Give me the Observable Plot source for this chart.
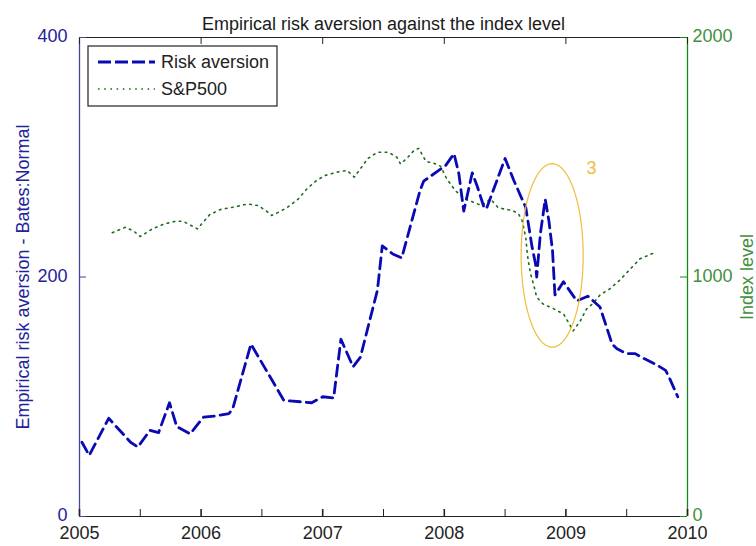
<!DOCTYPE html>
<html>
<head>
<meta charset="utf-8">
<script src="https://cdn.jsdelivr.net/npm/d3@7"></script>
<script src="https://cdn.jsdelivr.net/npm/@observablehq/plot@0.6"></script>
<style>
  html, body { margin: 0; padding: 0; background: #fff; }
  #chart { width: 756px; height: 546px; }
</style>
</head>
<body>
<div id="chart"></div>
<script>
// Empirical risk aversion (Bates:Normal), decimal year and level
const raYear = [2005.02, 2005.08, 2005.24, 2005.42, 2005.48, 2005.58, 2005.65, 2005.74, 2005.80, 2005.91,
  2006.02, 2006.12, 2006.23, 2006.26, 2006.41, 2006.68, 2006.91, 2007.00, 2007.09, 2007.15,
  2007.25, 2007.31, 2007.45, 2007.49, 2007.58, 2007.65, 2007.80, 2007.83, 2007.94, 2008.01,
  2008.08, 2008.12, 2008.16, 2008.23, 2008.27, 2008.33, 2008.35, 2008.50, 2008.57, 2008.67,
  2008.70, 2008.72, 2008.75, 2008.76, 2008.79, 2008.83, 2008.86, 2008.89, 2008.91, 2008.98,
  2009.09, 2009.18, 2009.28, 2009.38, 2009.42, 2009.50, 2009.57, 2009.64, 2009.74, 2009.82,
  2009.85, 2009.92];
const raValue = [62, 51, 82, 62, 58, 72, 70, 95, 75, 69,
  83, 84, 86, 90, 144, 97, 95, 100, 99, 148,
  125, 133, 189, 226, 219, 216, 272, 280, 288, 293,
  303, 286, 255, 287, 276, 257, 258, 299, 281, 258,
  239, 226, 211, 200, 236, 265, 247, 222, 185, 196,
  180, 184, 175, 144, 140, 136, 136, 132, 127, 122,
  116, 100];

// S&P500 index level, decimal year and index points
const spYear = [2005.27, 2005.38, 2005.45, 2005.50, 2005.60, 2005.70, 2005.79, 2005.85, 2005.91, 2005.97,
  2006.07, 2006.16, 2006.28, 2006.38, 2006.47, 2006.53, 2006.58, 2006.64, 2006.71, 2006.80,
  2006.87, 2006.95, 2007.02, 2007.12, 2007.20, 2007.26, 2007.31, 2007.37, 2007.45, 2007.54,
  2007.61, 2007.64, 2007.69, 2007.75, 2007.79, 2007.85, 2007.91, 2007.97, 2008.02, 2008.09,
  2008.17, 2008.24, 2008.31, 2008.38, 2008.44, 2008.49, 2008.56, 2008.61, 2008.64, 2008.67,
  2008.68, 2008.69, 2008.71, 2008.74, 2008.76, 2008.81, 2008.90, 2008.98, 2009.02, 2009.06,
  2009.12, 2009.17, 2009.22, 2009.28, 2009.36, 2009.45, 2009.53, 2009.61, 2009.74];
const spIndex = [1185, 1208, 1190, 1169, 1201, 1222, 1233, 1233, 1217, 1201,
  1260, 1282, 1293, 1305, 1298, 1278, 1257, 1271, 1291, 1326,
  1368, 1403, 1424, 1438, 1445, 1417, 1452, 1494, 1521, 1521,
  1500, 1472, 1494, 1528, 1537, 1482, 1476, 1462, 1410, 1361,
  1326, 1312, 1298, 1326, 1291, 1284, 1278, 1264, 1236, 1166,
  1110, 1069, 1013, 957, 916, 888, 867, 846, 811, 775,
  818, 867, 888, 925, 950, 990, 1034, 1076, 1104];

// Axis ticks
const yearTicks = [2005, 2006, 2007, 2008, 2009, 2010];
const halfYearTicks = [2005.5, 2006.5, 2007.5, 2008.5, 2009.5];
const leftTicks = [0, 200, 400];
const indexPerUnit = 5; // right axis 0–2000 shares the left axis 0–400 range

// Highlighted episode (ellipse centre, radii) and its tag
const episodeX = [2008.887];
const episodeY = [218];
const episodeRx = [0.255];
const episodeRy = [76.6];
const episodeTag = ["3"];
const episodeTagX = [2009.17];
const episodeTagY = [291];

const title = "Empirical risk aversion against the index level";
const leftLabel = "Empirical risk aversion - Bates:Normal";
const rightLabel = "Index level";
const seriesNames = ["Risk aversion", "S&P500"];

const ra = raYear.map((x, i) => ({x, y: raValue[i]}));
const sp = spYear.map((x, i) => ({x, y: spIndex[i] / indexPerUnit}));
const ellipse = d3.range(0, 361, 3).map(a => ({
  x: episodeX[0] + episodeRx[0] * Math.cos(a * Math.PI / 180),
  y: episodeY[0] + episodeRy[0] * Math.sin(a * Math.PI / 180)
}));

const W = 756, H = 546, mL = 79, mR = 69, mT = 37, mB = 30;
const pW = W - mL - mR, pH = H - mT - mB, tick = 7;
const navy = "#22229a", navyAxis = "#45459a", green = "#3f8f3f", greenAxis = "#138a13";
const blue = "#0a0ab4", dotGreen = "#1d6b1d", gold = "#f0bd3a";

const chart = Plot.plot({
  width: W, height: H,
  marginLeft: mL, marginRight: mR, marginTop: mT, marginBottom: mB,
  style: {fontFamily: "'Liberation Sans', Arial, sans-serif", fontSize: "18px", background: "#fff", color: "#222"},
  x: {type: "linear", domain: [2005, 2010]},
  y: {domain: [0, 400]},
  marks: [
    // S&P500, dotted
    Plot.line(sp, {x: "x", y: "y", stroke: dotGreen, strokeWidth: 1.6, strokeDasharray: "1.6,4.6"}),
    // risk aversion, dashed
    Plot.line(ra, {x: "x", y: "y", stroke: blue, strokeWidth: 2.8, strokeDasharray: "11,6", strokeLinejoin: "round"}),
    // highlighted episode
    Plot.line(ellipse, {x: "x", y: "y", stroke: gold, strokeWidth: 1.2}),
    Plot.text(episodeTag, {x: (d, i) => episodeTagX[i], y: (d, i) => episodeTagY[i], text: d => d, fill: gold, textAnchor: "start"}),
    // box
    Plot.ruleY([0], {stroke: "#222"}),
    Plot.ruleY([400], {stroke: "#222"}),
    Plot.ruleX([2005], {stroke: navyAxis, strokeWidth: 1.3}),
    Plot.ruleX([2010], {stroke: greenAxis, strokeWidth: 1.3}),
    // inward ticks
    Plot.ruleX(yearTicks, {stroke: "#222", strokeWidth: 1.6, insetTop: pH - tick}),
    Plot.ruleX(halfYearTicks, {stroke: "#222", insetTop: pH - tick}),
    Plot.ruleX(yearTicks, {stroke: "#222", insetBottom: pH - tick}),
    Plot.ruleY(leftTicks, {stroke: navyAxis, insetRight: pW - tick}),
    Plot.ruleY(leftTicks, {stroke: greenAxis, insetLeft: pW - tick}),
    // tick labels
    Plot.axisX({ticks: yearTicks, tickSize: 0, tickPadding: 10, tickFormat: "d", fill: "#222", label: null}),
    Plot.axisY({anchor: "left", ticks: leftTicks, tickSize: 0, tickPadding: 12, tickFormat: "d", fill: navy, label: null, dy: -1}),
    Plot.axisY({anchor: "right", ticks: leftTicks, tickSize: 0, tickPadding: 5, fill: green, label: null, dy: -1,
      tickFormat: d => String(d * indexPerUnit)}),
    // titles
    Plot.text([title], {frameAnchor: "top", dy: -20, fill: "#1a1a1a"}),
    Plot.text([leftLabel], {frameAnchor: "left", textAnchor: "middle", rotate: -90, dx: -56, fill: navy}),
    Plot.text([rightLabel], {frameAnchor: "right", textAnchor: "middle", rotate: -90, dx: 60, fill: green})
  ]
});

// legend box in the upper-left corner of the plotting area
const svg = d3.select(chart);
const lg = svg.append("g").attr("transform", `translate(${mL + 9},${mT + 9})`);
lg.append("rect").attr("width", 189).attr("height", 60)
  .attr("fill", "#fff").attr("stroke", "#222").attr("stroke-width", 1.2);
const rows = [
  {name: seriesNames[0], stroke: blue, width: 2.8, dash: "13,4"},
  {name: seriesNames[1], stroke: dotGreen, width: 1.6, dash: "1.6,4.6"}
];
rows.forEach((r, i) => {
  const y = 16 + i * 27;
  lg.append("line").attr("x1", 10).attr("x2", 67).attr("y1", y).attr("y2", y)
    .attr("stroke", r.stroke).attr("stroke-width", r.width).attr("stroke-dasharray", r.dash);
  lg.append("text").attr("x", 73).attr("y", y).attr("dy", "0.35em")
    .attr("text-anchor", "start").attr("fill", "#222").attr("font-size", 18).text(r.name);
});

document.getElementById("chart").appendChild(chart);
</script>
</body>
</html>
